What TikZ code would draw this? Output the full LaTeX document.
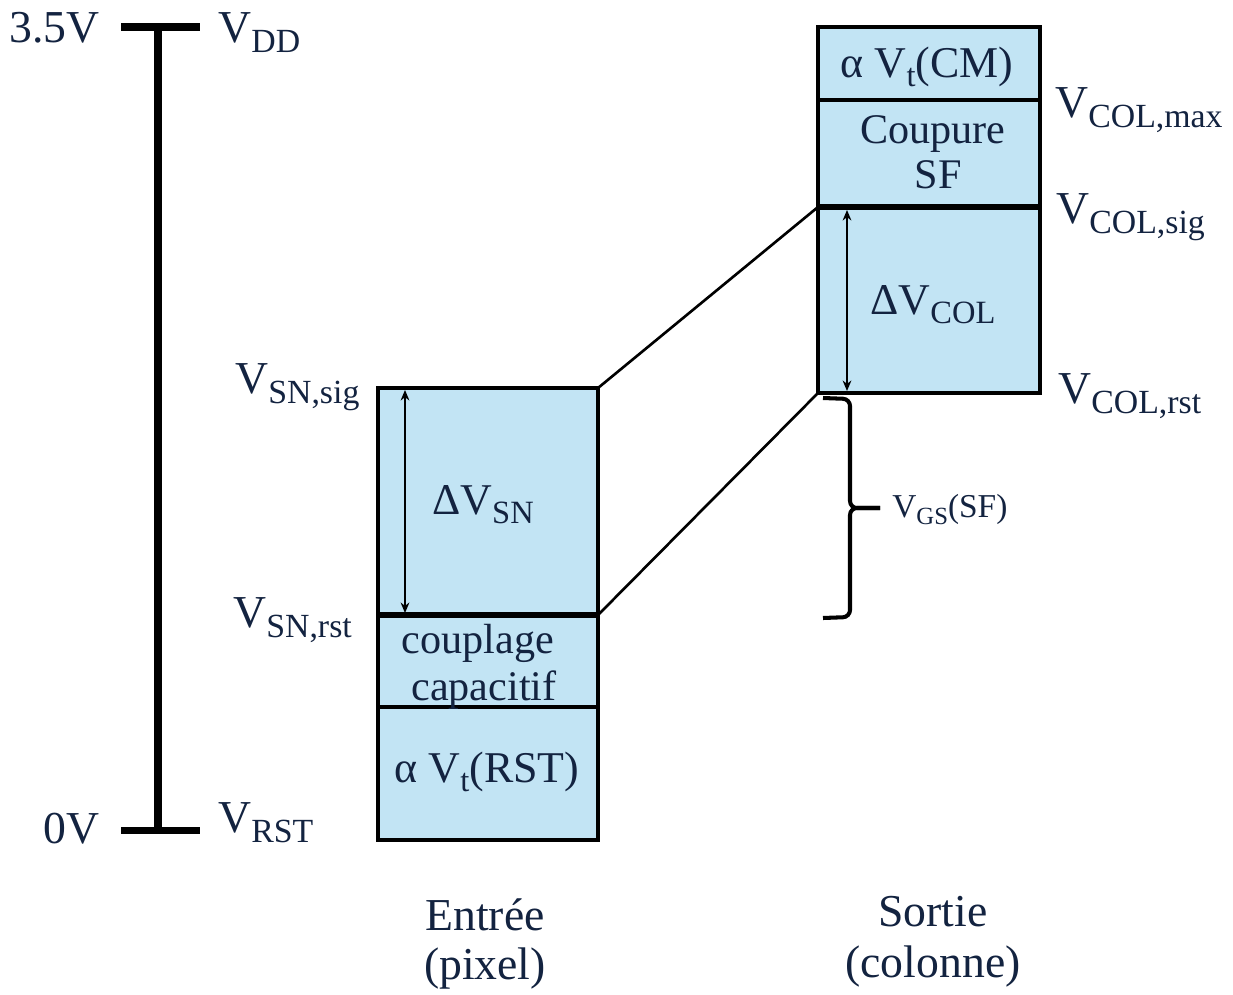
\documentclass[tikz,border=0pt]{standalone}
\usepackage{fontspec}
\setmainfont{Liberation Serif}
\usetikzlibrary{
  arrows.meta
}
\definecolor{inkblue}{RGB}{19,35,64}
\definecolor{cellblue}{RGB}{194,228,244}
\newcommand{\sub}[1]{\raisebox{-0.22em}{\scalebox{0.74}{#1}}}
\newcommand{\fsz}[1]{\fontsize{#1}{#1}\selectfont}

\begin{document}
\begin{tikzpicture}[x=0.02cm, y=-0.02cm,
  lbl/.style={text=inkblue, inner sep=0pt, font=\fsz{26}},
  celltxt/.style={lbl, anchor=base, font=\fsz{24}},
  cell/.style={fill=cellblue, draw=black, line width=2.4pt},
  rule/.style={line width=2.4pt},
  sepline/.style={line width=3.4pt},
  dvarrow/.style={{Stealth[length=6pt,width=5pt]}-{Stealth[length=6pt,width=5pt]}, line width=0.8pt},
  link/.style={line width=1.5pt},
  bracket/.style={line width=2.3pt, rounded corners=0.14cm}]
  \useasboundingbox (0,0) rectangle (1233,994);

  % voltage scale
  \coordinate (vdd) at (158,27);
  \coordinate (vrst) at (158,830);
  \draw[line width=4pt] ([xshift=-37*0.02cm]vdd) -- ([xshift=42*0.02cm]vdd);
  \draw[line width=4pt] ([xshift=-37*0.02cm]vrst) -- ([xshift=42*0.02cm]vrst);
  \draw[line width=4pt] (vdd) -- (vrst);
  \node[lbl, anchor=base east] (top) at (100,42) {3.5V};
  \node[lbl, anchor=base west] (vddlbl) at (218,42) {V\sub{DD}};
  \node[lbl, anchor=base east] (zero) at (100,843) {0V};
  \node[lbl, anchor=base west] (vrstlbl) at (218,832) {V\sub{RST}};

  % entree (pixel)
  \filldraw[cell] (378,388) rectangle (598,840);
  \draw[sepline] (378,615) -- (598,615);
  \draw[rule] (378,707) -- (598,707);
  \coordinate (snsig) at (598,388);
  \coordinate (snrst) at (598,615);
  \draw[dvarrow] (405,390) -- (405,613);
  \node[celltxt, font=\fsz{25}] (dvsn) at (483,514) {ΔV\sub{SN}};
  \node[celltxt] (coupl) at (478,653) {couplage};
  \node[celltxt] (capa) at (484,700) {capacitif};
  \node[celltxt, font=\fsz{25}] (vtrst) at (487,782) {α V\sub{t}(RST)};
  \node[lbl, anchor=base west] (snsiglbl) at (235,393) {V\sub{SN,sig}};
  \node[lbl, anchor=base west] (snrstlbl) at (233,627) {V\sub{SN,rst}};

  % sortie (colonne)
  \filldraw[cell] (818,27) rectangle (1040,393);
  \draw[rule] (818,100) -- (1040,100);
  \draw[sepline] (818,207) -- (1040,207);
  \coordinate (colsig) at (818,207);
  \coordinate (colrst) at (818,393);
  \draw[dvarrow] (847,210) -- (847,391);
  \node[celltxt, font=\fsz{25}] (vtcm) at (927,77) {α V\sub{t}(CM)};
  \node[celltxt] (coup) at (933,143) {Coupure};
  \node[celltxt] (sf) at (938,188) {SF};
  \node[celltxt, font=\fsz{25}] (dvcol) at (933,314) {ΔV\sub{COL}};
  \node[lbl, anchor=base west] (colmax) at (1055,117) {V\sub{COL,max}};
  \node[lbl, anchor=base west] (colsiglbl) at (1056,223) {V\sub{COL,sig}};
  \node[lbl, anchor=base west] (colrstlbl) at (1058,403) {V\sub{COL,rst}};

  % liens entree -> sortie
  \draw[link] (snsig) -- (colsig);
  \draw[link] (snrst) -- (colrst);

  % VGS
  \coordinate (gstop) at (823,398);
  \coordinate (gstip) at (880,508);
  \coordinate (gsbot) at (823,618);
  \draw[bracket] (gstop) -- (850,399) -- (850,508) -- (gstip);
  \draw[bracket] (gstip) -- (850,508) -- (850,617) -- (gsbot);
  \node[lbl, anchor=base west, font=\fsz{19}] (vgs) at (892,517) {V\sub{GS}(SF)};

  \node[lbl, anchor=base] (entree) at (485,930) {Entrée};
  \node[lbl, anchor=base] (pixel) at (485,979) {(pixel)};
  \node[lbl, anchor=base] (sortie) at (933,926) {Sortie};
  \node[lbl, anchor=base] (colonne) at (933,977) {(colonne)};
\end{tikzpicture}
\end{document}
